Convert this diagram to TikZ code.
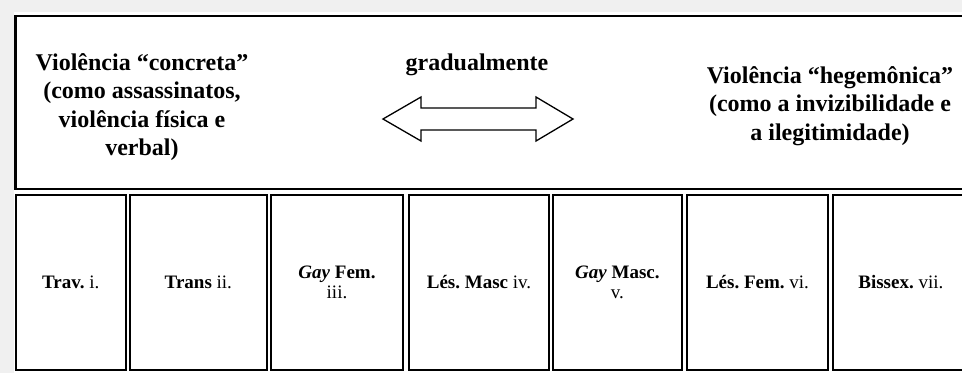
\documentclass[tikz,border=0pt]{standalone}
\usepackage{fontspec}
\setmainfont{Liberation Serif}
\frenchspacing
\begin{document}
\begin{tikzpicture}[x=1pt,y=-1pt,
  big/.style={font=\fontsize{24}{28.5}\selectfont\bfseries, align=center, inner sep=0pt},
  cell/.style={draw, line width=2pt, anchor=north west, minimum height=175pt, inner sep=0pt, outer sep=0pt},
  lab/.style={font=\fontsize{19}{20}\selectfont, align=center, inner sep=0pt}]
\useasboundingbox (0,0) rectangle (962,373);
\fill[black!6] (0,0) rectangle (962,373);
\fill[white] (14,12) rectangle (962,373);
% top row
\draw[line width=2.5pt] (15.5,16) rectangle (975,189);
\node[big, anchor=north] (lt) at (142,53) {Violência “concreta”\\(como assassinatos,\\violência física e\\verbal)};
\node[big, anchor=base] (gr) at (477,70) {gradualmente};
\node[big, anchor=north] (rt) at (830,66.3) {Violência “hegemônica”\\(como a invizibilidade e\\a ilegitimidade)};
\draw[line width=1.3pt, line join=miter] (383,119) -- (421,97) -- (421,108) -- (536,108) -- (536,97) -- (573,119) -- (536,141) -- (536,130) -- (421,130) -- (421,141) -- cycle;
% bottom row
\node[cell, minimum width=110pt] (c1) at (15.7,195) {};
\node[cell, minimum width=136.7pt] (c2) at (130,195) {};
\node[cell, minimum width=132pt] (c3) at (271,195) {};
\node[cell, minimum width=140pt] (c4) at (409,195) {};
\node[cell, minimum width=128.7pt] (c5) at (553,195) {};
\node[cell, minimum width=141pt] (c6) at (687,195) {};
\node[cell, minimum width=136.3pt] (c7) at (832.7,195) {};
\coordinate (bl) at (0,288);
\coordinate (tl) at (0,266);
\node[lab, anchor=base] (t1) at (c1.center |- bl) {\textbf{Trav.} i.};
\node[lab, anchor=base] (t2) at (c2.center |- bl) {\textbf{Trans} ii.};
\node[lab, anchor=north] (t3) at (c3.center |- tl) {\textbf{\textit{Gay} Fem.}\\iii.};
\node[lab, anchor=base] (t4) at (c4.center |- bl) {\textbf{Lés. Masc} iv.};
\node[lab, anchor=north] (t5) at (c5.center |- tl) {\textbf{\textit{Gay} Masc.}\\v.};
\node[lab, anchor=base] (t6) at (c6.center |- bl) {\textbf{Lés. Fem.} vi.};
\node[lab, anchor=base] (t7) at (c7.center |- bl) {\textbf{Bissex.} vii.};
\end{tikzpicture}
\end{document}
